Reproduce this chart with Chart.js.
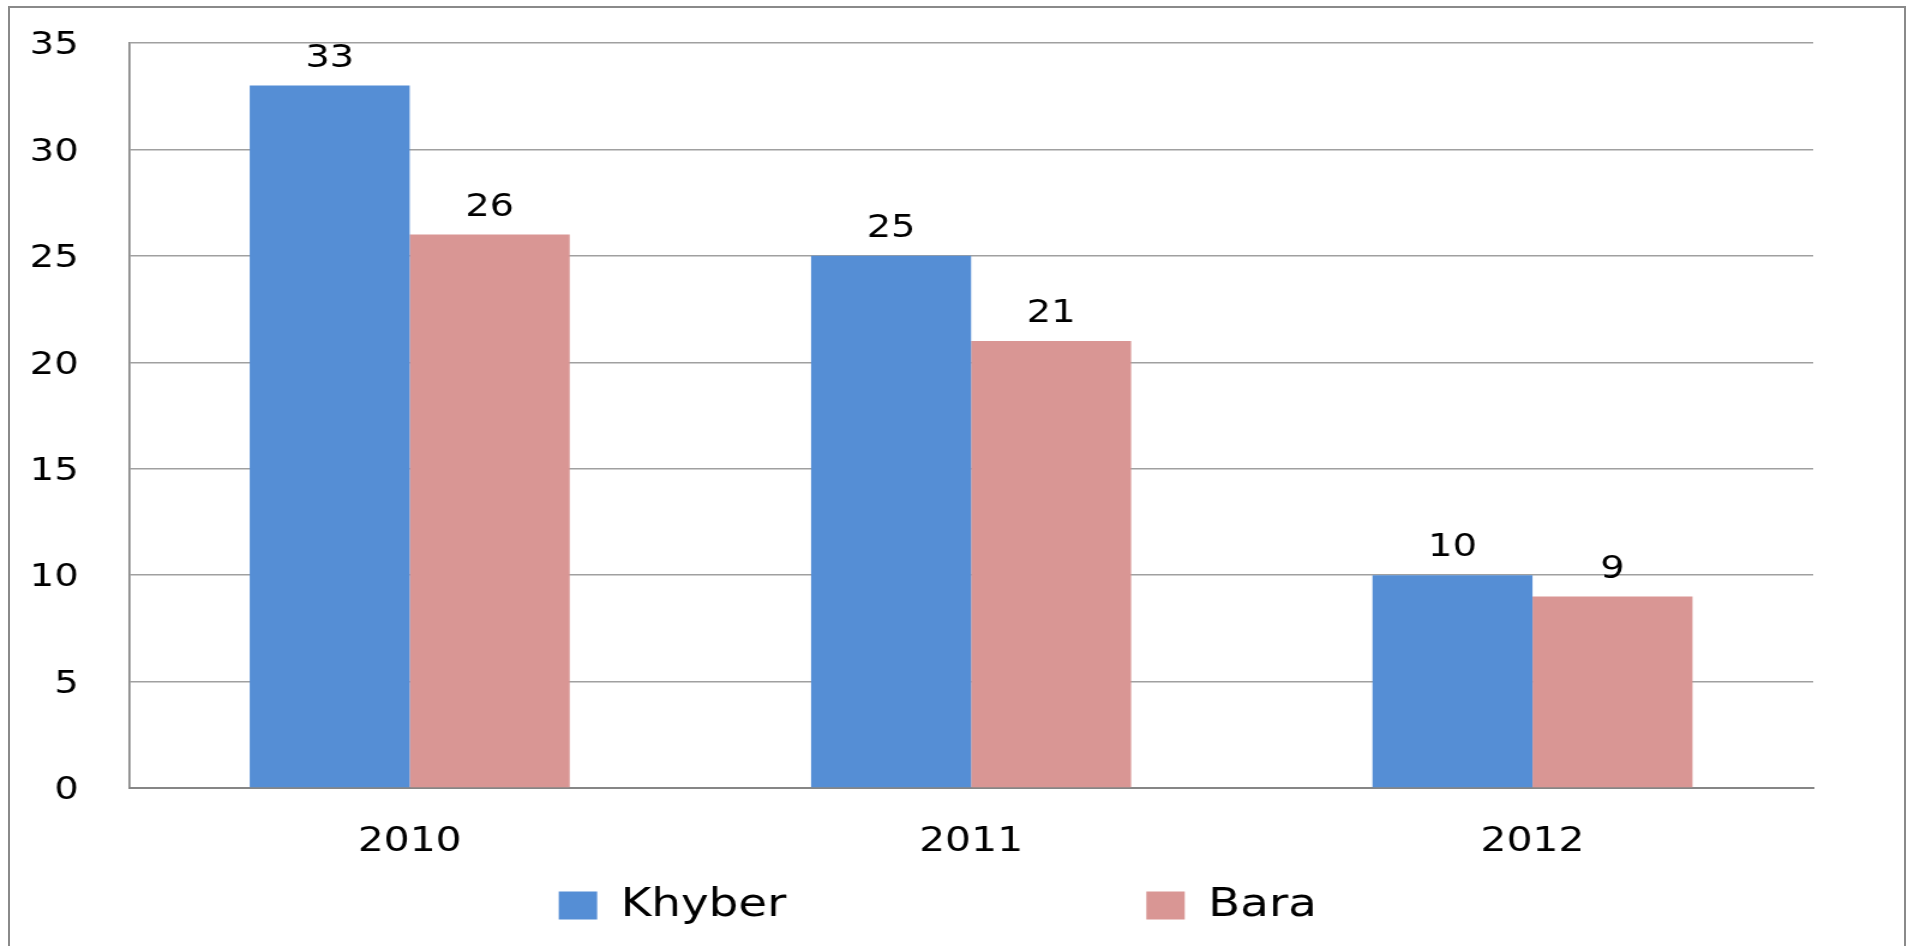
<!DOCTYPE html>
<html>
<head>
<meta charset="utf-8">
<script src="https://cdn.jsdelivr.net/npm/chart.js@4.4.1/dist/chart.umd.min.js"></script>
<style>
    html, body { margin: 0; padding: 0; background: #fff; overflow: hidden; }
    #frame {
        position: absolute; left: 8px; top: 6px; width: 1898px; height: 1000px;
        border: 2px solid #8a8a8a; box-sizing: border-box;
    }
    /* the original picture is stretched sideways, so the chart is too */
    #wrap {
        position: absolute; left: 0; top: 0; width: 1590px; height: 946px;
        transform: scaleX(1.2); transform-origin: 0 0;
    }
    #chart { display: block; }
</style>
</head>
<body>
<div id="frame"></div>
<div id="wrap"><canvas id="chart" width="1590" height="946"></canvas></div>
<script>
const years = ["2010", "2011", "2012"];
const khyber = [33, 25, 10];
const bara = [26, 21, 9];
const yMax = 35;
const yStep = 5;

const FONT = "'DejaVu Sans', Verdana, sans-serif";

// value labels above each bar
const barValues = {
    id: "barValues",
    afterDatasetsDraw(chart) {
        const ctx = chart.ctx;
        ctx.save();
        ctx.font = "32px " + FONT;
        ctx.fillStyle = "#000";
        ctx.textAlign = "center";
        ctx.textBaseline = "middle";
        chart.data.datasets.forEach((ds, i) => {
            chart.getDatasetMeta(i).data.forEach((bar, j) => {
                ctx.fillText(ds.data[j], bar.x, bar.y - 27);
            });
        });
        ctx.restore();
    }
};

// the big legend padding spaces the two items apart; pull the legend back up afterwards
const legendShift = {
    id: "legendShift",
    afterLayout(chart) {
        const lg = chart.legend;
        lg.top -= lg.options.labels.padding;
        lg.left += 26;
        lg.right += 26;
    }
};

Chart.defaults.color = "#000";
Chart.defaults.font.family = FONT;

new Chart(document.getElementById("chart"), {
    type: "bar",
    data: {
        labels: years,
        datasets: [
            { label: "Khyber", data: khyber, backgroundColor: "#558ed5" },
            { label: "Bara", data: bara, backgroundColor: "#d99694" }
        ]
    },
    options: {
        responsive: false,
        animation: false,
        events: [],
        categoryPercentage: 0.57,
        barPercentage: 1.0,
        layout: { padding: { top: 43, right: 79, bottom: 10, left: 0 } },
        scales: {
            x: {
                grid: { display: false, drawTicks: false },
                border: { color: "#868686", width: 2 },
                ticks: { font: { size: 34 }, padding: 34 },
                afterFit: s => {
                    s.height = 98;
                    s.paddingLeft = 0;
                    s.paddingRight = 0;
                }
            },
            y: {
                min: 0,
                max: yMax,
                ticks: { stepSize: yStep, font: { size: 32 }, padding: 42, labelOffset: 3 },
                grid: { color: "#a0a0a0", lineWidth: 1.5, drawTicks: false },
                border: { color: "#868686", width: 1.7 },
                afterFit: s => {
                    s.width = 107.5;
                    s.paddingTop = 0;
                    s.paddingBottom = 0;
                }
            }
        },
        plugins: {
            tooltip: { enabled: false },
            legend: {
                position: "bottom",
                maxHeight: 50,
                labels: {
                    font: { size: 39 },
                    boxWidth: 32,
                    boxHeight: 28,
                    padding: 300
                }
            }
        }
    },
    plugins: [barValues, legendShift]
});
</script>
</body>
</html>
